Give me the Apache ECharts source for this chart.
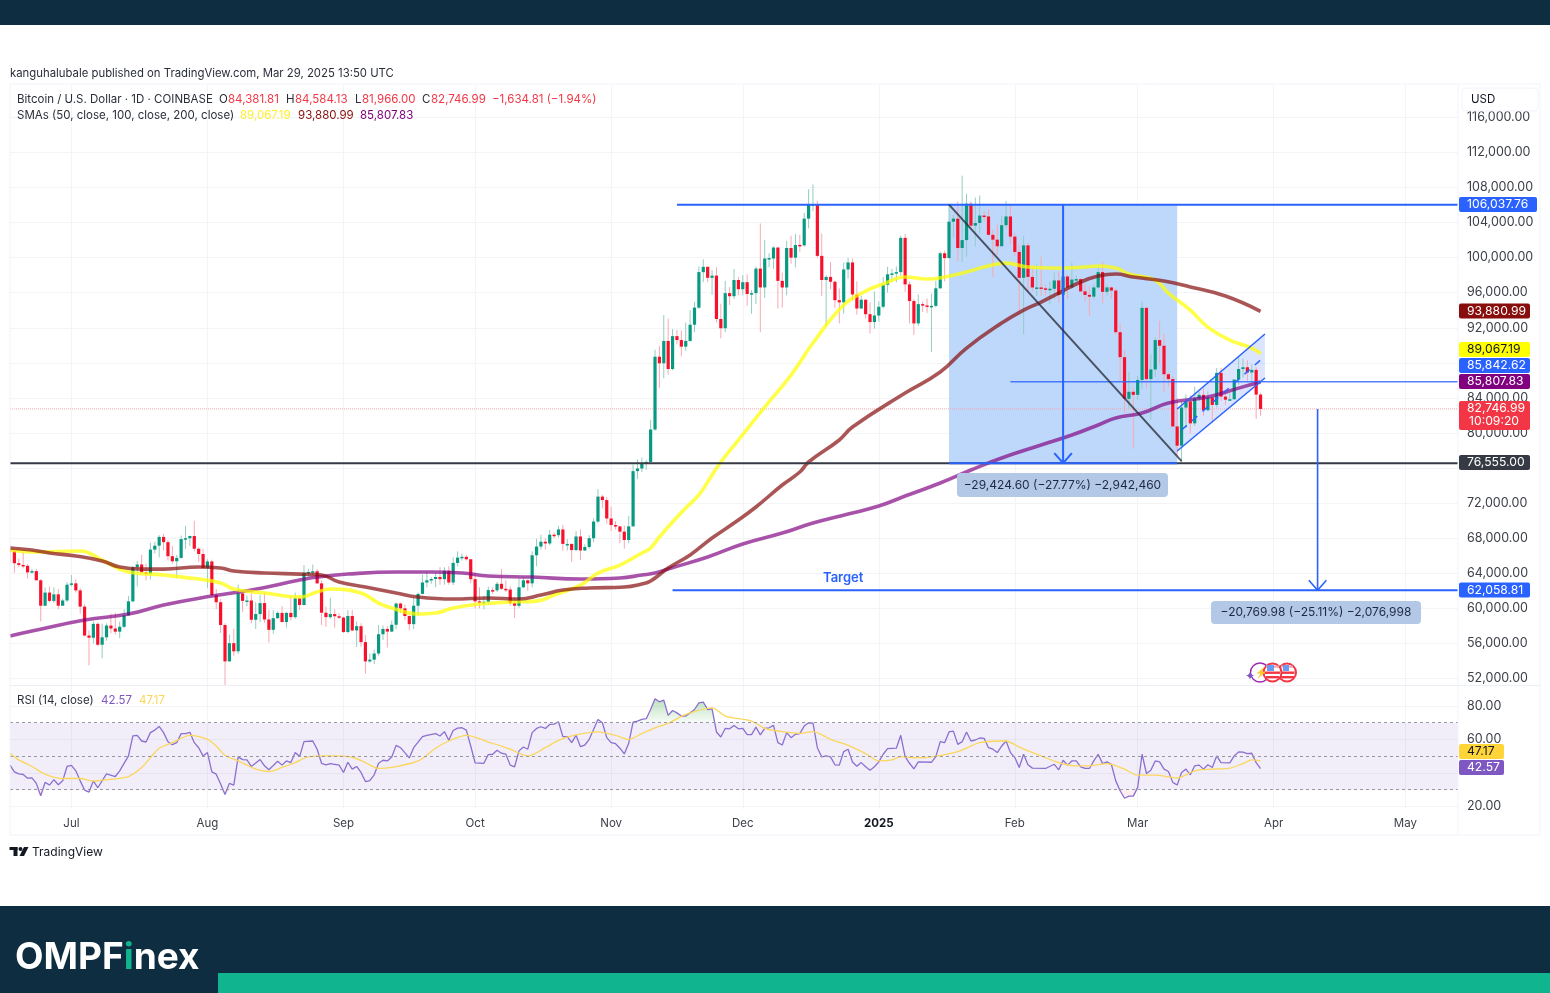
<!DOCTYPE html>
<html>
<head>
<meta charset="utf-8">
<title>BTC/USD</title>
<script src="https://cdn.jsdelivr.net/npm/echarts@6/dist/echarts.min.js"></script>
<style>
html,body{margin:0;padding:0;background:#fff}
#chart{width:1550px;height:993px}
</style>
</head>
<body>
<div id="chart"></div>
<script>
// days are counted from 2024-06-17, one category per day up to 2025-05-13
const dayCount = 331;
const monthTicks = [14,45,76,106,137,167,198,229,257,288,318];
const monthNames = ["Jul","Aug","Sep","Oct","Nov","Dec","2025","Feb","Mar","Apr","May"];
const priceTicks = [52000,56000,60000,64000,68000,72000,76000,80000,84000,88000,92000,96000,100000,104000,108000,112000,116000];
const priceLabels = [52000,56000,60000,64000,68000,72000,80000,84000,92000,96000,100000,104000,108000,112000,116000];
const rsiTicks = [20,40,60,80];
const rsiLabels = [20,60,80];

const opens = [66650,66500,65150,64950,64850,64100,64250,63200,60300,61800,60850,61600,60300,60900,
62700,62850,62050,60200,56900,56650,58230,55850,56700,58040,57700,57340,57900,59200,60800,64700,65000,64100,63950,66700,67150,68150,67550,65950,65370,65750,67900,68000,68250,66800,66200,
64620,65350,61500,60700,58100,53950,56030,55100,61700,60850,60900,58700,59350,60600,58730,57550,58880,59480,58440,59480,59000,61150,60380,64050,64150,64230,62850,59500,59000,59350,59100,
58950,57300,59130,57480,57970,56150,53950,54150,54850,57050,57650,57350,58130,60550,60000,59130,58200,60300,61650,62950,63200,63350,63580,63330,64280,62950,65180,65790,65880,65600,
63330,60800,60650,60750,62080,62060,62800,62230,62150,60600,60300,62400,63200,62850,66050,67050,67600,67400,68400,68350,69000,67350,67350,66650,68200,66600,67000,68000,69900,72750,72350,
70250,69500,69350,68750,67800,69350,75650,75950,76550,76700,80400,88700,87950,90500,87300,91050,90600,89850,90500,92350,94300,98350,98950,97700,97950,93000,91950,95950,95600,97450,
96400,97200,95850,95950,98750,96600,99900,99900,101150,97350,96600,101100,100000,101450,101400,104450,106050,106100,100200,97450,97800,97250,95150,94900,98650,99450,95800,94200,95200,93550,92650,
93400,94400,96900,98100,98200,98350,102250,96950,95050,92500,94700,94550,94500,94500,96500,100500,99950,104100,104450,101100,102000,106150,103650,103950,104800,104700,102600,102050,101300,103700,104700,
102400,100650,97700,101400,97800,96600,96600,96500,96450,96450,97400,95750,97850,96600,97500,97550,96150,95750,95550,96600,98350,96100,96600,96250,91500,88650,83900,84700,
84350,86050,94270,86150,87250,90600,89950,86700,86150,80750,78550,82900,83600,81100,83950,84350,82600,84050,83200,86850,84150,83800,83850,86100,87300,87500,86900,87200,84382];
const highs = [67250,66570,65700,66450,65050,64500,64500,63350,62400,62500,62400,62200,61100,63000,
63800,63300,62300,60500,57500,58500,58400,58250,58300,59400,59500,58500,59900,61400,64800,65400,66100,65100,67500,67600,68350,68500,67800,67100,66100,68300,69400,68300,70000,66950,66800,
65600,65550,62200,61100,58300,57000,57700,62700,61800,61450,61800,60700,61550,61800,59850,59800,59650,60250,59600,61400,61800,61400,64950,64500,65000,64500,63200,60200,61200,59900,59450,
59050,59800,59800,58500,58300,56950,54850,55300,58100,58050,58000,58600,60650,60650,60400,59200,61300,61800,63850,64100,63550,64000,64700,64700,64800,65800,66500,66250,66100,65650,
64100,62400,61450,62500,62400,63000,64500,63200,62500,61300,63400,63500,63300,66500,67950,68400,68000,68950,68650,69400,69500,67900,67400,68800,69000,67300,68350,70250,73600,72950,72700,
71600,69950,69400,69450,70550,76400,77000,77200,76900,81500,89500,89950,93450,93050,91850,91750,91700,92600,94000,94950,99000,99800,99000,98600,98900,94750,97350,96650,98700,97800,
98000,98100,96300,99000,103900,102000,100500,101300,101250,98300,101900,102500,102700,102600,105100,107800,108350,106500,102750,98000,99500,97400,96500,99450,99950,99900,97300,95650,95250,94900,96150,
95000,97800,98950,98700,99000,102500,102700,97250,95300,95800,95000,95350,95900,97350,100700,100800,105900,104900,106400,109350,107300,106400,106850,107100,105300,105450,103200,103800,104800,106450,106000,
102800,101500,102500,101700,98800,99200,100100,96900,97300,98300,98450,98100,98050,99400,97950,97700,97000,96700,97000,98800,99500,96900,96700,96500,92500,89400,87000,85150,
86550,95000,94400,88950,90900,92800,91300,86900,86500,84000,83650,84400,84300,85300,84700,85100,84750,84100,87400,87400,84800,84500,86000,88800,88500,88300,87800,87500,84584];
const lows = [65100,64050,64700,64550,63400,63950,63200,58500,60250,60700,60600,59900,60300,60700,
62500,61800,59400,56800,53500,56000,55700,54300,56300,57150,57000,56600,57750,59200,60700,62500,63900,63200,63300,66250,65800,66600,65450,65100,63450,65700,66800,67100,66500,65300,64550,
62300,61300,59900,57200,49000,53950,54600,54800,59600,60250,58300,57650,58450,58350,56100,57100,58780,58400,57800,58600,58800,59800,60350,63600,63800,62800,58100,57900,58800,57800,58750,
57200,57150,57400,55600,55650,52550,53750,53650,54600,56400,55550,57300,57650,59500,58700,57500,57650,59200,61600,62400,62800,62400,62700,62700,62700,62650,64800,65450,65450,62850,
60000,60000,59900,60450,61650,61850,62100,61850,60300,58900,60050,62300,62000,62400,64800,66700,66700,67200,68000,68100,66550,66600,65300,66500,65500,66550,66800,67550,69700,71400,69650,
68800,69000,67450,66800,67450,69350,74750,75550,75800,76500,80250,85100,86250,86650,87150,90100,88750,89400,90400,91500,94150,97200,97200,95750,92600,90800,91500,94600,95300,95700,
95700,94500,93600,94700,91500,95400,98900,98700,94200,94300,95700,99300,98900,100650,101250,103350,105300,100000,95600,92200,96400,94250,92500,93600,97600,95150,93500,94150,93050,91350,91900,
92700,94200,96000,97250,97200,97900,96100,92500,91200,92200,93800,93700,89250,94300,96450,97300,99900,102300,99600,99500,100100,103300,101300,102750,104100,102500,97800,100300,101300,103300,101550,
100200,93500,91250,96150,96150,95650,95650,95700,94700,95250,94850,94100,95300,96450,97200,96050,95000,93350,95250,96450,94800,95700,95300,91200,86000,82300,82800,78200,
83800,85050,85100,81500,86400,87800,84700,85250,80700,77400,76555,80600,79950,80800,83650,81950,82450,81200,82900,83650,83200,83650,83800,85500,86300,85900,85800,81600,81966];
const closes = [66500,65150,64950,64850,64100,64250,63200,60300,61800,60850,61600,60300,60900,62700,
62850,62050,60200,56900,56650,58230,55850,56700,58040,57700,57340,57900,59200,60800,64700,65000,64100,63950,66700,67150,68150,67550,65950,65370,65750,67900,68000,68250,66800,66200,64620,
65350,61500,60700,58100,53950,56030,55100,61700,60850,60900,58700,59350,60600,58730,57550,58880,59480,58440,59480,59000,61150,60380,64050,64150,64230,62850,59500,59000,59350,59100,58950,
57300,59130,57480,57970,56150,53950,54150,54850,57050,57650,57350,58130,60550,60000,59130,58200,60300,61650,62950,63200,63350,63580,63330,64280,62950,65180,65790,65880,65600,63330,
60800,60650,60750,62080,62060,62800,62230,62150,60600,60300,62400,63200,62850,66050,67050,67600,67400,68400,68350,69000,67350,67350,66650,68200,66600,67000,68000,69900,72750,72350,70250,
69500,69350,68750,67800,69350,75650,75950,76550,76700,80400,88700,87950,90500,87300,91050,90600,89850,90500,92350,94300,98350,98950,97700,97950,93000,91950,95950,95600,97450,96400,
97200,95850,95950,98750,96600,99900,99950,101150,97350,96600,101100,100000,101450,101400,104450,106050,106100,100200,97450,97800,97250,95150,94900,98650,99450,95800,94200,95200,93550,92650,93400,
94400,96900,98100,98200,98350,102250,96950,95050,92500,94700,94550,94500,94500,96500,100500,99950,104100,104450,101100,102000,106150,103650,103950,104800,104700,102600,102050,101300,103700,104700,102400,
100650,97700,101400,97800,96600,96600,96500,96450,96450,97400,95750,97850,96600,97500,97550,96150,95750,95550,96600,98350,96100,96600,96250,91500,88650,83900,84700,84350,
86050,94270,86150,87250,90600,89950,86700,86150,80750,78550,82900,83600,81100,83950,84350,82600,84050,83200,86850,84150,83800,83850,86100,87300,87500,86900,87200,84380,82747];

const sma50Points = [[0,66650],[5,66420],[16,66540],[21,65510],[27,64140],[35,63800],[43,63340],[48,62890],[51,62200],[58,61750],[66,61290],[70,61860],[73,62200],[80,61750],[84,60610],[87,60040],[93,59350],[97,59470],[101,60040],[107,60490],[114,60720],[120,60830],[124,61520],[130,62660],[134,64030],[139,64940],[144,66310],[146,66880],[148,68140],[151,69850],[154,71450],[157,72930],[160,75210],[162,76690],[166,79200],[172,82960],[178,86610],[183,90260],[190,94590],[195,96190],[199,96990],[204,97790],[209,97560],[213,97790],[218,98360],[222,98930],[227,99380],[232,98930],[239,98810],[245,98930],[248,99040],[252,98810],[255,98130],[261,97440],[264,95960],[269,94020],[273,92080],[278,90600],[283,89690],[285,89067]];
const sma100Points = [[0,66880],[5,66650],[9,66310],[15,65970],[21,65400],[25,64710],[30,64480],[35,64480],[43,64710],[48,64600],[51,64260],[58,64030],[66,63910],[71,63800],[75,63000],[81,62430],[88,61750],[93,61290],[101,61060],[109,61180],[116,61060],[121,61520],[126,62090],[132,62320],[140,62430],[144,62780],[146,63120],[150,64600],[155,66090],[160,68020],[166,70080],[170,71560],[176,74070],[180,75550],[182,76690],[189,79200],[192,80680],[204,84560],[212,86950],[218,89690],[226,92540],[231,94020],[235,94930],[239,95960],[244,97220],[248,97900],[252,98130],[256,97790],[263,97330],[269,96650],[277,95620],[285,93881]];
const sma200Points = [[0,56840],[5,57410],[17,58670],[27,59350],[35,60380],[46,61400],[55,62090],[66,63230],[70,63570],[77,63910],[88,64140],[96,64140],[103,64030],[109,63690],[119,63570],[130,63340],[139,63460],[144,63800],[147,64030],[150,64490],[159,65860],[167,67340],[176,68590],[183,69730],[191,70760],[198,71670],[204,72810],[212,74300],[219,75780],[226,77150],[235,78630],[242,79770],[248,80910],[252,81710],[258,82280],[264,83420],[273,84100],[280,85120],[285,85808]];

const rsiPoints = [[0,44.7],[1,40.7],[2,39.5],[3,39.1],[4,36.9],[5,37.1],[6,33.8],[7,26.4],[8,34.4],[9,32.8],[10,36],[11,33],[12,35.3],[13,43.9],[14,44.5],[15,41.3],[16,35.3],[17,29.8],[18,28.6],[19,35.3],[20,31.2],[22,39.5],[24,37.9],[25,41.3],[27,50.2],[28,62.1],[29,62.5],[30,59.1],[31,58.5],[32,64.1],[33,65.6],[34,67.8],[35,64.1],[36,58.7],[37,56.9],[38,58.1],[39,63.5],[40,63.5],[41,64.3],[42,58.1],[43,55.1],[44,50.2],[45,52.2],[46,40.7],[47,39.3],[48,33.4],[49,27.2],[50,33.8],[51,32.8],[52,49.6],[53,48],[54,47.8],[55,43.9],[57,48],[58,44.3],[59,41.9],[61,47],[62,44.7],[63,47.2],[64,46.2],[65,52.2],[66,49.8],[67,58.7],[69,59.1],[70,54.2],[71,45.8],[72,44.9],[73,45.6],[75,44.7],[76,40.3],[77,46.4],[78,42.3],[79,43.9],[80,40.3],[81,34.9],[82,35.5],[83,38.9],[84,45.8],[85,47.6],[86,47.2],[87,49.6],[88,56.5],[89,55.1],[91,49],[92,55.1],[94,61.7],[95,62.5],[97,63.5],[98,62.1],[99,64.7],[100,59.5],[101,65.4],[102,66.8],[103,67],[104,65.6],[105,56.1],[106,46],[108,45.8],[109,51],[110,51.2],[111,53.6],[112,51.8],[113,51.2],[114,44.7],[115,43.7],[116,53.2],[117,55.5],[118,54.2],[119,64.1],[120,66.6],[121,67.6],[122,66.6],[123,69],[124,69.2],[125,70.6],[126,61.7],[127,61.7],[128,58.1],[129,62.5],[130,55.7],[131,56.7],[132,60.1],[133,66],[134,72],[135,70],[136,61.1],[137,58.1],[138,57.5],[139,54.8],[140,51.4],[141,57.7],[142,70.4],[143,71],[144,72],[145,72.4],[146,77.9],[147,84.3],[148,82.5],[149,83.5],[150,74.4],[151,77.3],[152,75.9],[153,74],[154,74],[155,75.9],[156,77.9],[157,81.9],[158,82.3],[159,77.9],[160,78.3],[161,64.5],[162,61.5],[163,66.6],[164,66.4],[165,68.4],[166,66.4],[167,66.6],[168,62.9],[169,62.9],[170,67.4],[171,62.7],[172,66.6],[173,67],[174,68.4],[175,58.1],[176,56.7],[177,64.1],[178,61.1],[179,63.1],[180,63.5],[181,68],[182,70],[183,69.8],[184,55.1],[185,49.6],[186,50.2],[187,49.6],[188,44.9],[189,44.7],[190,52.8],[191,54.2],[192,46.6],[193,44],[194,46.2],[195,43.7],[196,41.7],[197,43.7],[198,46.6],[199,51.2],[200,54.6],[202,54.8],[203,62.5],[204,49.8],[205,45.8],[206,42.5],[207,46.6],[210,46.4],[211,49.8],[212,58.7],[213,58.1],[214,64.5],[215,65],[216,57.1],[217,58.7],[218,64.5],[219,59.1],[220,59.7],[221,60.9],[222,60.7],[223,55.1],[224,54.2],[225,52.2],[226,56.1],[227,59.1],[228,52.2],[229,49.2],[230,43.3],[231,51.2],[232,44.9],[233,42.9],[236,42.7],[238,45.2],[239,41.9],[240,47.6],[241,44.7],[242,47.2],[243,47.2],[244,43.7],[245,42.7],[246,42.7],[247,47.2],[248,51.2],[249,45.6],[250,46.6],[251,45.2],[252,35.3],[253,29.4],[254,24.9],[255,26.2],[256,26.2],[257,31.4],[258,51.2],[259,39.7],[260,41.7],[261,47.2],[262,46.6],[263,42.3],[264,40.9],[265,34.4],[266,32.8],[267,40.3],[268,42.3],[269,38.9],[270,44.3],[271,44.7],[272,42.3],[273,44.9],[274,43.3],[275,50.2],[276,46.2],[278,46],[279,50.2],[280,52.6],[281,52.4],[282,51.6],[283,51.8],[284,46.2],[285,42.57]];
const rsiMaPoints = [[0,51.8],[2,47.8],[5,43.9],[7,40.7],[9,38.3],[12,36.7],[16,36.7],[19,35.1],[21,35.7],[27,37.9],[30,43.3],[32,49.2],[34,54.8],[37,58.1],[41,62.5],[45,60.1],[47,56.1],[49,50.6],[52,47.2],[56,42.3],[59,40.9],[62,43.3],[65,46.2],[68,49.6],[73,50.2],[78,49.4],[81,46.2],[84,42.7],[87,43.3],[93,47.2],[97,54.8],[100,59.1],[104,62.5],[109,58.5],[112,56.1],[114,54.2],[118,50.2],[122,55.1],[125,59.5],[129,62.7],[134,64.5],[138,62.5],[141,60.1],[144,63.5],[147,67],[150,69.6],[154,75],[160,78.9],[163,74],[169,71],[172,66.6],[176,64.7],[180,63.7],[183,64.7],[187,60.1],[191,56.5],[195,51.6],[198,47.2],[201,47.8],[203,49.8],[207,49],[210,49.6],[216,52.8],[221,58.1],[226,59.1],[227,59.1],[230,55.5],[235,50.2],[239,46.2],[243,44.3],[246,44.3],[250,45.6],[254,42.3],[257,38.7],[261,38.7],[266,37],[270,41.3],[274,42.3],[278,42.9],[281,45.6],[283,47.8],[285,47.17]];

// drawing tools, in day / price
const resistanceLine = [[152,106037.76],[330,106037.76]];
const midLine = [[227.5,85842.62],[330,85842.62]];
const supportLine = [[0,76555],[330,76555]];
const boxBottomLine = [[214,76555],[266,76555]];
const targetLine = [[151,62058.81],[330,62058.81]];
const lastPriceLine = [[0,82746.99],[330,82746.99]];
const dropArrow = [[240,106037.76],[240,76555]];
const dropArrowHead = [[237.7,77700],[240,76555],[242.3,77700]];
const targetArrow = [[298,82746.99],[298,62058.81]];
const targetArrowHead = [[295.7,63200],[298,62058.81],[300.3,63200]];
const trendLine = [[214,106037.76],[267,76800]];
const channelUpper = [[266,82740],[286,91290]];
const channelMid = [[267,80340],[286,88780]];
const channelLower = [[266,77950],[286,86270]];
const boxCorners = [[214,106037.76],[266,76555]];

const upColor = "#089981", downColor = "#f7112b";
const upWick = "#93cdc1", downWick = "#f9a8b2";
const blue = "#2962ff";
const uiFont = "Inter, 'Noto Sans', sans-serif";

const days = Array.from({length: dayCount}, (_, i) => String(i));
const candleData = closes.map((c, i) => [i, opens[i], c, lows[i], highs[i]]);

function renderCandle(params, api) {
  const d = api.value(0), o = api.value(1), c = api.value(2);
  const hi = api.coord([d, api.value(4)]), lo = api.coord([d, api.value(3)]);
  const top = api.coord([d, Math.max(o, c)]), bottom = api.coord([d, Math.min(o, c)]);
  const up = c >= o;
  return {
    type: "group",
    children: [
      {type: "line", shape: {x1: hi[0], y1: hi[1], x2: lo[0], y2: lo[1]}, style: {stroke: up ? upWick : downWick, lineWidth: 1}},
      {type: "rect", shape: {x: top[0] - 1.6, y: top[1], width: 3.2, height: Math.max(bottom[1] - top[1], 1.5)}, style: {fill: up ? upColor : downColor}}
    ]
  };
}

function renderChannel(params, api) {
  const pts = [channelUpper[0], channelUpper[1], channelLower[1], channelLower[0]].map(p => api.coord(p));
  return {type: "polygon", shape: {points: pts}, style: {fill: "rgba(41,98,255,0.17)"}};
}

function lineSeries(data, color, width, z, extra) {
  return Object.assign({
    type: "line", data, xAxisIndex: 0, yAxisIndex: 0, showSymbol: false, silent: true, z,
    lineStyle: {color, width}, animation: false
  }, extra || {});
}

const price = v => Number(v).toLocaleString("en-US", {minimumFractionDigits: 2, maximumFractionDigits: 2});
const monthLabel = v => monthNames[monthTicks.indexOf(Number(v))];
const isMonth = i => monthTicks.includes(i);
const smaStyle = {smooth: 0.45};

const series = [
  // position box behind the candles
  {type: "line", data: [], xAxisIndex: 0, yAxisIndex: 0, z: 1, silent: true,
   markArea: {silent: true, itemStyle: {color: "#bdd8fa"},
     data: [[{xAxis: String(boxCorners[0][0]), yAxis: boxCorners[0][1]}, {xAxis: String(boxCorners[1][0]), yAxis: boxCorners[1][1]}]]}},
  {type: "custom", renderItem: renderChannel, data: [0], xAxisIndex: 0, yAxisIndex: 0, z: 1, silent: true, animation: false},
  lineSeries(lastPriceLine, "#f8a5ad", 1, 1, {lineStyle: {color: "#f8a5ad", width: 1, type: "dotted"}}),
  {type: "custom", name: "BTC", renderItem: renderCandle, data: candleData, encode: {x: 0, y: [1, 2, 3, 4]},
   xAxisIndex: 0, yAxisIndex: 0, clip: true, z: 2, silent: true, animation: false},
  lineSeries(sma200Points, "rgba(128,0,128,0.68)", 3.6, 3, smaStyle),
  lineSeries(sma50Points, "rgba(255,255,0,0.72)", 3.6, 3, smaStyle),
  lineSeries(sma100Points, "rgba(136,14,14,0.7)", 3.6, 3, smaStyle),
  lineSeries(supportLine, "#363a45", 2, 4),
  lineSeries(boxBottomLine, blue, 2, 4),
  lineSeries(resistanceLine, blue, 2, 4),
  lineSeries(midLine, "rgba(41,98,255,0.8)", 1.5, 4),
  lineSeries(targetLine, blue, 2, 4),
  lineSeries(dropArrow, blue, 2, 4),
  lineSeries(dropArrowHead, blue, 2, 4),
  lineSeries(targetArrow, blue, 1.6, 4),
  lineSeries(targetArrowHead, blue, 1.6, 4),
  lineSeries(trendLine, "rgba(40,44,56,0.78)", 2, 4),
  lineSeries(channelUpper, blue, 1.5, 4),
  lineSeries(channelLower, blue, 1.5, 4),
  lineSeries(channelMid, blue, 1.5, 4, {lineStyle: {color: blue, width: 1.5, type: [7, 7]}}),
  // rsi panel
  {type: "line", data: rsiPoints.map(p => [p[0], Math.max(p[1], 70)]), xAxisIndex: 1, yAxisIndex: 1, showSymbol: false, silent: true, z: 2,
   lineStyle: {width: 0},
   areaStyle: {origin: 70, color: new echarts.graphic.LinearGradient(0, 0, 0, 1, [{offset: 0, color: "rgba(76,175,80,0.55)"}, {offset: 1, color: "rgba(76,175,80,0.05)"}])},
   animation: false},
  {type: "line", data: rsiPoints.map(p => [p[0], Math.min(p[1], 30)]), xAxisIndex: 1, yAxisIndex: 1, showSymbol: false, silent: true, z: 2,
   lineStyle: {width: 0}, areaStyle: {origin: 30, color: "rgba(242,54,69,0.12)"}, animation: false},
  {type: "line", name: "RSI", data: rsiPoints, xAxisIndex: 1, yAxisIndex: 1, showSymbol: false, silent: true, z: 3, animation: false,
   lineStyle: {color: "#8b6fcf", width: 1.3},
   markArea: {silent: true, itemStyle: {color: "rgba(126,87,194,0.1)"}, data: [[{yAxis: 70}, {yAxis: 30}]]},
   markLine: {silent: true, symbol: "none", label: {show: false}, animation: false,
     lineStyle: {color: "#9598a1", type: [3, 3], width: 1}, data: [{yAxis: 70}, {yAxis: 50}, {yAxis: 30}]}},
  {type: "line", name: "RSI MA", data: rsiMaPoints, xAxisIndex: 1, yAxisIndex: 1, showSymbol: false, silent: true, z: 3, animation: false,
   smooth: 0.3, lineStyle: {color: "#fbd65a", width: 1.3}}
];

const xAxisBase = {
  type: "category", data: days, boundaryGap: false,
  axisLine: {show: false}, axisTick: {show: false},
  splitLine: {show: true, interval: isMonth, lineStyle: {color: "#f3f4f8", width: 1}}
};

const gridLine = {show: true, lineStyle: {color: "#f3f4f8", width: 1}};

// plain helpers for the page furniture
const txt = (text, x, y, fill, size, extra) => ({type: "text", z: 30, silent: true,
  style: Object.assign({text, x, y: y + 0.8, fill, font: (size || 11.5) + "px " + uiFont, textVerticalAlign: "middle"}, extra || {})});
const box = (x, y, width, height, fill, r, extra) => ({type: "rect", z: 19, silent: true,
  shape: {x, y, width, height, r: r || 0}, style: Object.assign({fill}, extra || {})});
const disc = (cx, cy, r, z, style) => ({type: "circle", z, silent: true, shape: {cx, cy, r}, style});
const onTop = (el, z) => Object.assign(el, {z});

const badgeTexts = ["106,037.76","93,880.99","89,067.19","85,842.62","85,807.83","76,555.00","62,058.81","47.17","42.57"];
const badgeTops = [197,303.5,342,358,374,455,582.5,744,760];
const badgeWidths = [78,71,71,71,71,71,71,45,45];
const badgeFills = ["#2962ff","#880e0e","#ffff00","#2962ff","#800080","#363a45","#2962ff","#ffd53a","#7e57c2"];
const badgeInks = ["#fff","#fff","#131722","#fff","#fff","#fff","#fff","#131722","#fff"];

const furniture = [
  box(0, 0, 1550, 25, "#0f2d40"),
  box(0, 906, 1550, 87, "#0f2d40"),
  box(218, 973, 1332, 20, "#10b48f"),
  box(10, 84, 1530, 751, "none", 0, {stroke: "#f0f3fa", lineWidth: 1}),
  {type: "line", z: 19, silent: true, shape: {x1: 10, y1: 685.5, x2: 1540, y2: 685.5}, style: {stroke: "#eceef5", lineWidth: 1}},
  {type: "line", z: 19, silent: true, shape: {x1: 1458, y1: 84, x2: 1458, y2: 835}, style: {stroke: "#f0f3fa", lineWidth: 1}},
  txt("kanguhalubale published on TradingView.com, Mar 29, 2025 13:50 UTC", 10, 72.5, "#2a2e39", 11.35),
  txt("Bitcoin / U.S. Dollar · 1D · COINBASE", 17, 98.5, "#2a2e39", 11.5),
  txt("O", 219, 98.5, "#2a2e39"), txt("84,381.81", 228, 98.5, "#f23645"),
  txt("H", 286, 98.5, "#2a2e39"), txt("84,584.13", 295, 98.5, "#f23645"),
  txt("L", 355, 98.5, "#2a2e39"), txt("81,966.00", 362, 98.5, "#f23645"),
  txt("C", 422, 98.5, "#2a2e39"), txt("82,746.99", 431, 98.5, "#f23645"),
  txt("−1,634.81 (−1.94%)", 492, 98.5, "#f23645"),
  txt("SMAs (50, close, 100, close, 200, close)", 17, 114.5, "#2a2e39", 11.5),
  txt("89,067.19", 240, 114.5, "#ffee33"), txt("93,880.99", 298, 114.5, "#880e0e"), txt("85,807.83", 360, 114.5, "#800080"),
  box(1462, 88, 76, 23, "#fff", 4, {stroke: "#f0f3fa", lineWidth: 1}),
  txt("USD", 1471, 99, "#131722", 11.5),
  txt("RSI (14, close)", 17, 699.5, "#2a2e39", 11.5),
  txt("42.57", 101, 699.5, "#7e57c2"), txt("47.17", 139, 699.5, "#fbd65a"),
  txt("Target", 823, 577.5, blue, 13, {font: "600 13px " + uiFont}),
  // measure labels
  box(957, 473, 211, 24, "#b3c8e6", 4),
  txt("−29,424.60 (−27.77%) −2,942,460", 1062.5, 484.5, "#1e2a44", 12, {textAlign: "center"}),
  box(1211, 601, 210, 23, "#b3c8e6", 4),
  txt("−20,769.98 (−25.11%) −2,076,998", 1316, 612, "#1e2a44", 12, {textAlign: "center"}),
  // last price badge with countdown
  box(1459, 401, 71, 29, "#f23645", 2),
  txt("82,746.99", 1467, 408, "#fff", 12.2),
  txt("10:09:20", 1469, 421, "#fff", 12.2),
  // event icons
  disc(1260, 672.5, 9.5, 19, {fill: "#fff", stroke: "#9c27b0", lineWidth: 1.4}),
  txt("✦", 1245, 675.5, "#7e57c2", 12),
  txt("⚡", 1255, 672, "#9c27b0", 10),
  disc(1287, 672.5, 9, 20, {fill: "#fff", stroke: "#f23645", lineWidth: 2}),
  onTop(box(1281, 665.5, 12, 2.2, "#f5a3ab"), 20), onTop(box(1279.5, 671.5, 15, 2.4, "#f23645"), 20), onTop(box(1280, 676, 14, 2.4, "#f23645"), 20),
  onTop(box(1283, 665, 6, 6, "#6a9bf4"), 20),
  disc(1272.5, 672.5, 9, 21, {fill: "#fff", stroke: "#f23645", lineWidth: 2}),
  onTop(box(1266, 665.5, 13, 2.2, "#f5a3ab"), 22), onTop(box(1265, 671.5, 15, 2.4, "#f23645"), 22), onTop(box(1266, 676, 13, 2.4, "#f23645"), 22),
  onTop(box(1267, 665, 7, 6, "#6a9bf4"), 22),
  // logos
  box(9.5, 847, 8, 3, "#131722"), box(13.5, 847, 4, 9, "#131722"),
  disc(20.5, 849, 2, 19, {fill: "#131722"}),
  {type: "polygon", z: 19, silent: true, shape: {points: [[19.5, 856], [24, 847], [28.5, 847], [24, 856]]}, style: {fill: "#131722"}},
  txt("TradingView", 32, 851.7, "#131722", 12),
  {type: "text", z: 30, silent: true, style: {x: 15, y: 958, textVerticalAlign: "middle",
    text: "{w|OMPF}{t|i}{w|nex}",
    rich: {w: {fill: "#fff", font: "700 37px " + uiFont}, t: {fill: "#10b48f", font: "700 37px " + uiFont}}}}
];

badgeTexts.forEach((t, i) => {
  furniture.push(box(1459, badgeTops[i], badgeWidths[i], 15, badgeFills[i], 2));
  furniture.push(txt(t, 1467, badgeTops[i] + 7, badgeInks[i], 12.2));
});

const option = {
  backgroundColor: "#fff",
  animation: false,
  grid: [
    {left: 10, right: 92, top: 85, height: 601},
    {left: 10, right: 92, top: 686, height: 123}
  ],
  xAxis: [
    Object.assign({}, xAxisBase, {gridIndex: 0, axisLabel: {show: false}}),
    Object.assign({}, xAxisBase, {gridIndex: 1, axisLabel: {
      show: true, margin: 9, interval: isMonth, color: "#3c4048", fontSize: 11.5, fontFamily: uiFont,
      formatter: v => monthLabel(v) === "2025" ? "{y|2025}" : monthLabel(v),
      rich: {y: {fontWeight: 700, color: "#131722", fontSize: 11.5, fontFamily: uiFont}}
    }})
  ],
  yAxis: [
    {type: "value", gridIndex: 0, position: "right", min: 51145, max: 119690,
     axisLine: {show: false}, axisTick: {show: false, customValues: priceTicks}, splitLine: gridLine,
     axisLabel: {customValues: priceLabels, formatter: price, color: "#3c4048", fontSize: 12.5, fontFamily: uiFont, margin: 9}},
    {type: "value", gridIndex: 1, position: "right", min: 18.5, max: 91.94,
     axisLine: {show: false}, axisTick: {show: false, customValues: rsiTicks}, splitLine: gridLine,
     axisLabel: {customValues: rsiLabels, formatter: price, color: "#3c4048", fontSize: 12.5, fontFamily: uiFont, margin: 9}}
  ],
  series,
  graphic: {elements: furniture}
};

const chart = echarts.init(document.getElementById("chart"), null, {renderer: "canvas"});
chart.setOption(option);
</script>
</body>
</html>
